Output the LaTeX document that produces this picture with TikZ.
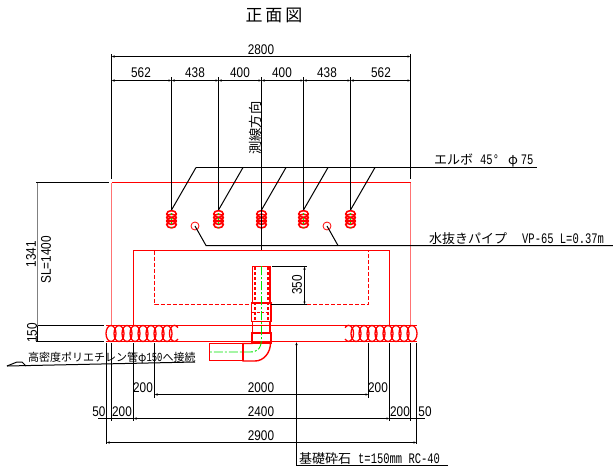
\documentclass[tikz,border=0pt]{standalone}
\usepackage{fontspec}
\usetikzlibrary{arrows.meta}
\setmainfont[FakeStretch=0.84]{Liberation Sans}
\newfontfamily\cjk{Noto Sans CJK JP}
\newfontfamily\latmono[Scale=1.12,FakeStretch=0.72]{Liberation Mono}
\definecolor{pipegreen}{rgb}{0.0, 0.9, 0.0}
\tikzset{
  dimline/.style={black,line width=1pt},
  dimarrow/.style={dimline,{Latex[length=3pt,width=2.5pt]}-{Latex[length=3pt,width=2.5pt]}},
  dimtext/.style={inner sep=0pt,font=\fontsize{14}{15}\selectfont},
  jptext/.style={inner sep=0pt,font=\fontsize{13}{14}\selectfont},
  redline/.style={red,line width=1pt},
  paleline/.style={red!55,line width=1.7pt},
  pipeline/.style={red,line width=1.4pt},
  coil/.style={red,line width=1.3pt},
  centerline/.style={pipegreen,line width=0.9pt,dash pattern=on 9pt off 2pt on 2pt off 2pt}
}

\begin{document}
\begin{tikzpicture}[x=1pt,y=-1pt]
    \useasboundingbox (0,0) rectangle (613,469);
    \fill[white] (0,0) rectangle (613,469);
    % Title
    \node[inner sep=0pt,font=\fontsize{17}{18}\selectfont\cjk] (title) at (274,15) {正\,面\,図};
    % Concrete body
    \draw[redline] (111.5,182.5) -- (410.5,182.5);
    \draw[paleline] (111.5,182.5) -- (111.5,325);
    \draw[paleline] (410.5,182.5) -- (410.5,325);
    \draw[redline] (133.5,325) -- (133.5,250.5) -- (389.5,250.5) -- (389.5,325);
    \draw[redline,dash pattern=on 4pt off 2pt] (154.5,250.5) -- (154.5,304.5) -- (252,304.5);
    \draw[redline,dash pattern=on 4pt off 2pt] (271,304.5) -- (368.5,304.5) -- (368.5,250.5);
    % Crushed stone bed
    \draw[redline] (106,325.5) -- (416.5,325.5);
    \draw[redline] (106,341.5) -- (416.5,341.5);
    \foreach \x in {111,119,...,167} {
      \draw[coil] (\x,333.5) ellipse (5 and 8);
    }
    \foreach \x in {356,364,...,412} {
      \draw[coil] (\x,333.5) ellipse (5 and 8);
    }
    \draw[coil] (178,339) arc (45:315:5 and 8);
    \draw[coil] (345,339) arc (135:-135:5 and 8);
    % Elbow coils
    \foreach \x in {171.5,218.5,261.5,303.5,350.5} {
      \foreach \y in {214,217.5,221,224.5} {
        \draw[red,line width=1.6pt] (\x,\y) ellipse (4.8 and 3.4);
      }
      \draw[pipegreen,line width=0.8pt,dash pattern=on 2pt off 2.5pt] (\x,213) -- (\x,227);
    }
    % Drain holes
    \draw[red,line width=0.8pt] (195,226) circle (4);
    \draw[red,line width=0.8pt] (327,226) circle (4);
    % Vertical pipe with elbow
    \draw[pipeline] (252.5,303) -- (252.5,266.5) -- (270,266.5) -- (270,303);
    \draw[red,line width=1.2pt,dash pattern=on 3pt off 2pt] (255,267) -- (255,321);
    \draw[red,line width=1.2pt,dash pattern=on 3pt off 2pt] (268,267) -- (268,321);
    \draw[pipeline] (251.5,303) rectangle (271,321.5);
    \draw[red,line width=1.4pt,dash pattern=on 3pt off 1.5pt] (252,312.5) -- (270.5,312.5);
    \draw[pipeline] (252.5,321.5) -- (252.5,343);
    \draw[pipeline] (270,321.5) -- (270,333);
    \draw[pipeline] (251.5,333) rectangle (271,343);
    \draw[pipeline] (270.5,343) arc (0:90:15.5 and 18) -- (243,361) -- (243,343.5) -- (252.5,343.5);
    \draw[red,line width=1.6pt] (243,343.5) rectangle (209.5,360.5);
    \draw[centerline] (261.5,266) -- (261.5,338) .. controls (261.5,348) and (258,352) .. (250,352) -- (210,352);
    % Upper dimensions
    \draw[dimarrow] (111.5,56.5) -- (410.5,56.5);
    \draw[dimline] (111.5,54) -- (111.5,179);
    \draw[dimline] (410.5,54) -- (410.5,179);
    \draw[dimarrow] (111.5,80.5) -- (171.5,80.5);
    \draw[dimarrow] (171.5,80.5) -- (218.5,80.5);
    \draw[dimarrow] (218.5,80.5) -- (261.5,80.5);
    \draw[dimarrow] (261.5,80.5) -- (303.5,80.5);
    \draw[dimarrow] (303.5,80.5) -- (350.5,80.5);
    \draw[dimarrow] (350.5,80.5) -- (410.5,80.5);
    \foreach \x in {171.5,218.5,303.5,350.5} {
      \draw[dimline] (\x,77) -- (\x,210);
    }
    \draw[dimline] (261.5,77) -- (261.5,250);
    \node[dimtext] (d2800) at (261,50) {2800};
    \node[dimtext] (d562l) at (141,73) {562};
    \node[dimtext] (d438l) at (195,73) {438};
    \node[dimtext] (d400l) at (240,73) {400};
    \node[dimtext] (d400r) at (282,73) {400};
    \node[dimtext] (d438r) at (327,73) {438};
    \node[dimtext] (d562r) at (381,73) {562};
    \node[rotate=90,inner sep=0pt,font=\fontsize{13.3}{14}\selectfont\cjk] (survey) at (255,128) {測線方向};
    % Leaders
    \draw[dimline] (196,167.5) -- (537,167.5);
    \foreach \x in {171.5,218.5,261.5,303.5,350.5} {
      \draw[dimline] (\x,210) -- (\x+24.5,167.5);
    }
    \node[jptext,anchor=west] (elbow) at (434,160.5) {{\cjk エルボ}\hspace{7pt}{\latmono 45°}\hspace{9pt}{\cjk φ}\hspace{3pt}{\latmono 75}};
    \draw[dimline] (195,226) -- (206,245.5) -- (613,245.5);
    \draw[dimline] (327,226) -- (338,245.5);
    \node[jptext,anchor=west] (drain) at (429,239) {{\cjk 水抜きパイプ}\hspace{15pt}{\latmono VP-65 L=0.37m}};
    % Left dimensions
    \draw[dimline] (36,182.5) -- (109,182.5);
    \draw[dimline] (36,325.5) -- (104,325.5);
    \draw[dimline] (36,341.5) -- (104,341.5);
    \draw[dimline,gray] (37.5,182.5) -- (37.5,325.5);
    \draw[dimline] (37.5,325.5) -- (37.5,341.5);
    \node[dimtext,rotate=90] (d1341) at (31,254) {1341};
    \node[dimtext,rotate=90] (dsl) at (46,260) {SL=1400};
    \node[dimtext,rotate=90] (d150) at (32,333) {150};
    % Pipe depth
    \draw[dimline] (272,266.5) -- (307,266.5);
    \draw[dimline] (271,304.5) -- (307,304.5);
    \draw[dimarrow] (304.5,266.5) -- (304.5,304.5);
    \node[dimtext,rotate=90] (d350) at (297,285) {350};
    % Connection note
    \draw[dimline] (7,366) -- (17,362) -- (22,362) -- (26,366);
    \draw[dimline] (7,366) -- (195,362);
    \node[anchor=west,inner sep=0pt,font=\fontsize{11}{12}\selectfont] (conn) at (28,358) {{\cjk 高密度ポリエチレン管φ}{\latmono 150}{\cjk へ接続}};
    % Lower dimensions
    \foreach \x/\yend in {106.5/444,111.5/421,133.5/421,154.5/398,368.5/398,389.5/421,410.5/421,416.5/444} {
      \draw[dimline] (\x,343) -- (\x,\yend);
    }
    \draw[dimarrow] (154.5,394.5) -- (368.5,394.5);
    \draw[dimarrow] (133.5,418.5) -- (389.5,418.5);
    \draw[dimline] (98,418.5) -- (133.5,418.5);
    \draw[dimline] (389.5,418.5) -- (425,418.5);
    \draw[dimarrow] (106.5,442.5) -- (416.5,442.5);
    \node[dimtext] (d2000) at (261,388) {2000};
    \node[dimtext] (d200a) at (143,388) {200};
    \node[dimtext] (d200b) at (378,388) {200};
    \node[dimtext] (d2400) at (261,412) {2400};
    \node[dimtext] (d50l) at (99,412) {50};
    \node[dimtext] (d200c) at (122,412) {200};
    \node[dimtext] (d200d) at (400,412) {200};
    \node[dimtext] (d50r) at (425,412) {50};
    \node[dimtext] (d2900) at (261,436) {2900};
    % Base note
    \draw[dimline,->,>={Latex[length=3pt,width=2.5pt]}] (448,465.5) -- (296.5,465.5) -- (296.5,342);
    \node[jptext,anchor=west] (base) at (299,459) {{\cjk 基礎砕石}\hspace{7pt}{\latmono t=150mm RC-40}};
  \end{tikzpicture}
\end{document}
